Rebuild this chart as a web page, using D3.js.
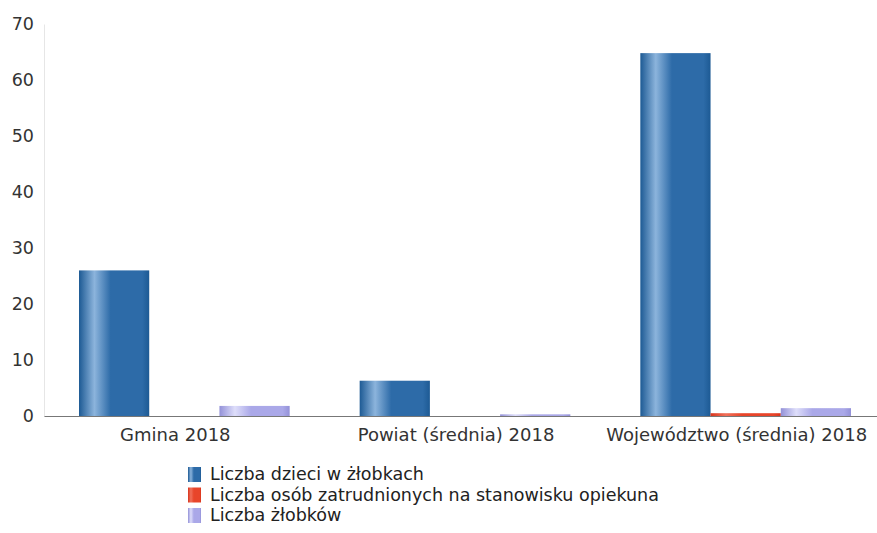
<!DOCTYPE html>
<html><head><meta charset="utf-8">
<script src="https://cdn.jsdelivr.net/npm/d3@7"></script>
<style>body{margin:0;background:#fff}svg{display:block}</style>
</head><body>
<svg id="c" width="877" height="533"></svg>
<script>
const categories = ["Gmina 2018", "Powiat (średnia) 2018", "Województwo (średnia) 2018"];
const seriesNames = ["Liczba dzieci w żłobkach", "Liczba osób zatrudnionych na stanowisku opiekuna", "Liczba żłobków"];
const dzieci = [26, 6.3, 64.8];
const opiekunowie = [0, 0, 0.5];
const zlobki = [1.8, 0.3, 1.4];
const yTicks = [0, 10, 20, 30, 40, 50, 60, 70];
const colors = [["#1d5a94", "#8cb4dc", "#2d6ba8"], ["#d8341c", "#f0705a", "#e8452a"], ["#9391d8", "#dedefa", "#aaa8e8"]];

const svg = d3.select("#c");
const font = "DejaVu Sans, Verdana, sans-serif";
const m = {left: 44, top: 24, bottom: 416};
const x0 = d3.scaleBand().domain(categories).range([44, 886]).paddingInner(0).paddingOuter(0);
const x1 = d3.scaleBand().domain(seriesNames).range([35, x0.bandwidth() - 35]);
const y = d3.scaleLinear().domain([0, 70]).range([m.bottom, m.top]);

const defs = svg.append("defs");
colors.forEach((c, i) => {
  const g = defs.append("linearGradient").attr("id", "g" + i).attr("x1", 0).attr("x2", 1).attr("y1", 0).attr("y2", 0);
  g.append("stop").attr("offset", "0%").attr("stop-color", c[0]);
  g.append("stop").attr("offset", "22%").attr("stop-color", c[1]);
  g.append("stop").attr("offset", "45%").attr("stop-color", c[2]);
  g.append("stop").attr("offset", "90%").attr("stop-color", c[2]);
  g.append("stop").attr("offset", "100%").attr("stop-color", c[0]);
});

// y axis
const yAxis = d3.axisLeft(y).tickValues(yTicks).tickSize(0).tickPadding(10);
const ya = svg.append("g").attr("transform", `translate(${m.left},0)`).call(yAxis);
ya.select(".domain").attr("stroke", "#e6e6e6");
ya.selectAll("text").attr("font-family", font).attr("font-size", 17.5).attr("fill", "#333");

const rows = categories.map((c, i) => ({cat: c, vals: [dzieci[i], opiekunowie[i], zlobki[i]]}));
const groups = svg.append("g").selectAll("g").data(rows).join("g")
  .attr("transform", d => `translate(${x0(d.cat)},0)`);
groups.selectAll("rect").data(d => d.vals.map((v, j) => ({v, j}))).join("rect")
  .attr("x", d => x1(seriesNames[d.j]))
  .attr("width", x1.bandwidth())
  .attr("y", d => y(d.v))
  .attr("height", d => y(0) - y(d.v))
  .attr("fill", d => `url(#g${d.j})`);

// x axis
const xAxis = d3.axisBottom(x0).tickSize(0).tickPadding(12);
const xa = svg.append("g").attr("transform", `translate(0,${m.bottom})`).call(xAxis);
xa.select(".domain").attr("stroke", "#777").attr("stroke-width", 1.2);
xa.selectAll("text").attr("font-family", font).attr("font-size", 18).attr("fill", "#333").attr("dx", -9);

// legend
const lg = svg.append("g").attr("transform", "translate(188,467)");
const items = lg.selectAll("g").data(seriesNames).join("g").attr("transform", (d, i) => `translate(0,${i * 20.5})`);
items.append("rect").attr("width", 13).attr("height", 15).attr("fill", (d, i) => `url(#g${i})`);
items.append("text").attr("x", 22).attr("y", 13).attr("font-family", font).attr("font-size", 17.5).attr("fill", "#222").text(d => d);
</script>
</body></html>
